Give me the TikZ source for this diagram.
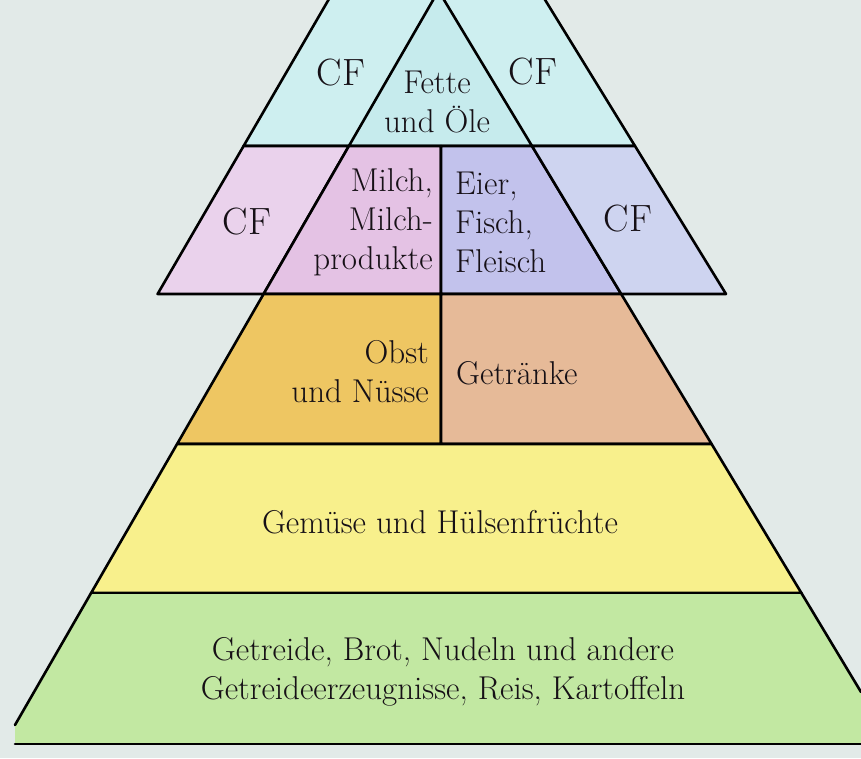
\documentclass[tikz,border=0pt]{standalone}
\usepackage{tikz}
\definecolor{bgcol}{RGB}{226,234,232}
\definecolor{cfcyan}{RGB}{206,239,240}
\definecolor{fettecol}{RGB}{198,235,237}
\definecolor{cfpink}{RGB}{234,210,236}
\definecolor{milchcol}{RGB}{228,194,228}
\definecolor{eiercol}{RGB}{194,194,236}
\definecolor{cfblue}{RGB}{206,212,240}
\definecolor{obstcol}{RGB}{238,198,98}
\definecolor{trinkcol}{RGB}{230,186,152}
\definecolor{gemuesecol}{RGB}{248,240,140}
\definecolor{getreidecol}{RGB}{194,232,162}
\definecolor{inkcol}{RGB}{22,16,22}
\tikzset{cell/.style = {draw=black, line width=2.6pt, line join=round}}
\tikzset{edge/.style = {draw=black, line width=2.6pt, line cap=round}}
\tikzset{lbl/.style = {font=\fontsize{33}{39}\selectfont, inner sep=0pt, text=inkcol}}
\tikzset{cflbl/.style = {font=\fontsize{38}{40}\selectfont, inner sep=0pt, text=inkcol}}

\begin{document}
\begin{tikzpicture}[x=1pt,y=-1pt]
                \clip (0,0) rectangle (861,758);
                \fill[bgcol] (0,0) rectangle (861,758);
                % corners of the pyramid
                \coordinate (apex) at (438.5,-9.3);
                \coordinate (ml1) at (348.9,146);
                \coordinate (ml2) at (263.6,294);
                \coordinate (ml3) at (177.1,444);
                \coordinate (ml4) at (91.1,593);
                \coordinate (ml5) at (15,725);
                \coordinate (mr1) at (532,146);
                \coordinate (mr2) at (621.2,294);
                \coordinate (mr3) at (711.6,444);
                \coordinate (mr4) at (801.4,593);
                \coordinate (mr5) at (861,692);
                \coordinate (otl) at (334.2,-10);
                \coordinate (ol1) at (243.6,146);
                \coordinate (ol2) at (157.6,294);
                \coordinate (otr) at (539,-10);
                \coordinate (or1) at (635,146);
                \coordinate (or2) at (726,294);
                \coordinate (d1) at (441,146);
                \coordinate (d2) at (441,294);
                \coordinate (d3) at (441,444);
                \coordinate (bl) at (15,744);
                \coordinate (br) at (861,744);
                % top tier
                \filldraw[cell, fill=cfcyan] (otl) -- (ol1) -- (or1) -- (otr);
                \filldraw[cell, fill=fettecol] (ml1) -- (apex) -- (mr1) -- cycle;
                % second tier
                \filldraw[cell, fill=cfpink] (ol2) -- (ol1) -- (ml1) -- (ml2) -- cycle;
                \filldraw[cell, fill=milchcol] (ml2) -- (ml1) -- (d1) -- (d2) -- cycle;
                \filldraw[cell, fill=eiercol] (d2) -- (d1) -- (mr1) -- (mr2) -- cycle;
                \filldraw[cell, fill=cfblue] (mr2) -- (mr1) -- (or1) -- (or2) -- cycle;
                % third tier
                \filldraw[cell, fill=obstcol] (ml3) -- (ml2) -- (d2) -- (d3) -- cycle;
                \filldraw[cell, fill=trinkcol] (d3) -- (d2) -- (mr2) -- (mr3) -- cycle;
                % lower tiers
                \filldraw[cell, fill=gemuesecol] (ml4) -- (ml3) -- (mr3) -- (mr4) -- cycle;
                \fill[getreidecol] (ml4) -- (ml5) -- (bl) -- (br) -- (mr5) -- (mr4) -- cycle;
                \draw[edge] (ml4) -- (ml5);
                \draw[edge] (mr4) -- (mr5);
                \draw[edge] (ml4) -- (mr4);
                \draw[edge] (bl) -- (br);
                % labels
                \node[cflbl] (cf1) at (341,73) {CF};
                \node[cflbl] (cf2) at (533,72) {CF};
                \node[lbl, align=center] (fette) at (437,102) {Fette\\und Öle};
                \node[cflbl] (cf3) at (247,222) {CF};
                \node[cflbl] (cf4) at (628,219) {CF};
                \node[lbl, align=right, anchor=east] (milch) at (433,222) {Milch,\\Milch-\\produkte};
                \node[lbl, align=left, anchor=west] (eier) at (455,222) {Eier,\\Fisch,\\Fleisch};
                \node[lbl, align=right, anchor=east] (obst) at (429,372) {Obst\\und Nüsse};
                \node[lbl, anchor=west] (trink) at (456,373) {Getränke};
                \node[lbl] (gemuese) at (440,522) {Gemüse und Hülsenfrüchte};
                \node[lbl, align=center] (getreide) at (443,672) {Getreide, Brot, Nudeln und andere\\Getreideerzeugnisse, Reis, Kartoffeln};
            \end{tikzpicture}
\end{document}
